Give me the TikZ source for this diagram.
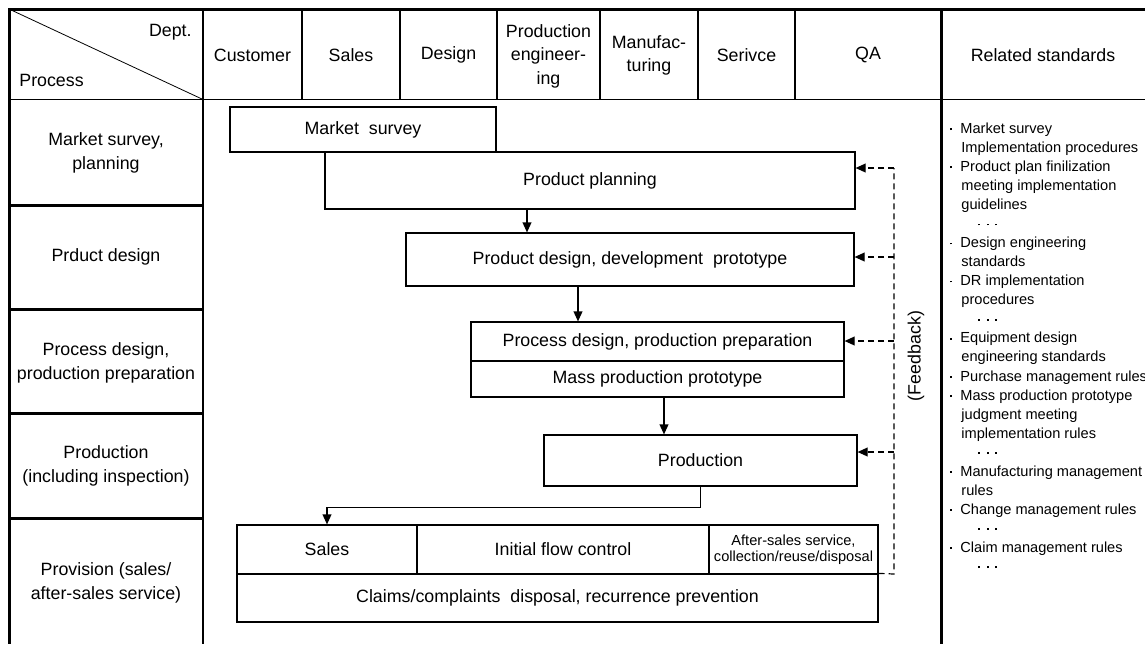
\documentclass[tikz,border=0pt]{standalone}
\usepackage{fontspec}
\setmainfont{Liberation Sans}
\usetikzlibrary{arrows.meta,positioning,calc}

\newcommand{\flowfont}{\fontsize{8.9pt}{11.75pt}\selectfont}
\newcommand{\smallflowfont}{\fontsize{7.3pt}{8pt}\selectfont}
\newcommand{\stddot}{\rule[1.7pt]{0.9pt}{0.9pt}}
\newcommand{\stdbul}{\makebox[6pt][l]{\hspace*{0.7pt}\stddot}}
\newcommand{\stdcont}{\hspace*{6.5pt}}
\newcommand{\stddots}{\hspace*{15pt}\stddot\hspace{3.3pt}\stddot\hspace{3.3pt}\stddot}

\tikzset{
  frame/.style={line width=1.5pt},
  rule/.style={line width=0.9pt},
  flowbox/.style={draw, line width=0.6pt, inner sep=0pt, align=center, font=\flowfont},
  headtext/.style={inner sep=0pt, align=center, font=\flowfont},
  stdtext/.style={inner sep=0pt, anchor=base west, font=\smallflowfont},
  flowarrow/.style={line width=0.6pt, -{Triangle[length=5pt, width=4.4pt]}},
  fbline/.style={line width=0.6pt, dash pattern=on 3pt off 2pt},
  fbarrow/.style={fbline, -{Triangle[length=5pt, width=4.4pt]}}
}

\begin{document}
\begin{tikzpicture}[x=0.5pt, y=-0.5pt]
  \useasboundingbox (0,0) rectangle (1145,644);
  % Table frame
  \draw[frame] (1145,9) -- (9,9) -- (9,644);
  \draw[rule] (9,99.5) -- (1145,99.5);
  \draw[rule] (203,9) -- (203,644);
  \draw[frame] (941,9) -- (941,644);
  \foreach \x in {302,400,497,600,698,795}
    \draw[rule] (\x,9) -- (\x,99.5);
  \foreach \y in {205,309,413,518}
    \draw[frame] (9,\y) -- (203,\y);
  \draw[line width=0.4pt] (9,9) -- (203,99.5);
  % Header
  \node[headtext, anchor=east] (hdept) at (192,32) {Dept.};
  \node[headtext, anchor=west] (hproc) at (19,80) {Process};
  \node[headtext] (hcust) at (252.5,55) {Customer};
  \node[headtext] (hsales) at (351,55) {Sales};
  \node[headtext] (hdesign) at (448.5,55) {Design};
  \node[headtext] (hprodeng) at (548.5,56) {Production\\engineer-\\ing};
  \node[headtext] (hmanuf) at (649,55.5) {Manufac-\\turing};
  \node[headtext] (hserv) at (746.5,55) {Serivce};
  \node[headtext] (hqa) at (868,55) {QA};
  \node[headtext] (hstd) at (1043,55) {Related standards};
  % Process column
  \node[headtext] (pmarket) at (106,153) {Market survey,\\planning};
  \node[headtext] (pdesign) at (106,257) {Prduct design};
  \node[headtext] (pprocess) at (106,363) {Process design,\\production preparation};
  \node[headtext] (pprod) at (106,466) {Production\\(including inspection)};
  \node[headtext] (pprov) at (106,583) {Provision (sales/\\after-sales service)};
  % Flow boxes
  \node[flowbox, minimum width=133pt, minimum height=22.5pt] (ms) at (363,129.5) {Market\ \ survey};
  \node[flowbox, minimum width=265pt, minimum height=28.5pt] (pp) at (590,180.5) {Product planning};
  \node[flowbox, minimum width=224pt, minimum height=26.5pt] (pd) at (630,259.5) {Product design, development\ \ prototype};
  \node[flowbox, minimum width=186.5pt, minimum height=19.5pt] (prc) at (657.5,341.5) {Process design, production preparation};
  \node[flowbox, minimum width=186.5pt, minimum height=18pt] (mpp) at (657.5,379) {Mass production prototype};
  \node[flowbox, minimum width=156.5pt, minimum height=25.5pt] (prod) at (700.5,460.5) {Production};
  \node[flowbox, minimum width=90pt, minimum height=24.5pt] (sal) at (327,549.5) {Sales};
  \node[flowbox, minimum width=146pt, minimum height=24.5pt] (ifc) at (563,549.5) {Initial flow control};
  \node[flowbox, minimum width=84.5pt, minimum height=24.5pt, font=\smallflowfont] (asv) at (793.5,549.5) {After-sales service,\\collection/reuse/disposal};
  \node[flowbox, minimum width=320.5pt, minimum height=24pt] (clm) at (557.5,598) {Claims/complaints\ \ disposal, recurrence prevention};
  % Arrows
  \draw[flowarrow] ([xshift=-31.5pt]pp.south) -- ([xshift=-31.5pt]pp.south |- pd.north);
  \draw[flowarrow] ([xshift=-26pt]pd.south) -- ([xshift=-26pt]pd.south |- prc.north);
  \draw[flowarrow] ([xshift=3.25pt]mpp.south) -- ([xshift=3.25pt]mpp.south |- prod.north);
  \draw[flowarrow] (prod.south) -- ++(0,21) -| (sal.north);
  % Feedback
  \coordinate (fb1) at (894,168);
  \coordinate (fb2) at (894,257);
  \coordinate (fb3) at (894,341);
  \coordinate (fb4) at (894,452);
  \coordinate (fbbot) at (894,574);
  \draw[fbline] (clm.north east) -- (fbbot) -- (fb1);
  \draw[fbarrow] (fb1) -- (fb1 -| pp.east);
  \draw[fbarrow] (fb2) -- (fb2 -| pd.east);
  \draw[fbarrow] (fb3) -- (fb3 -| prc.east);
  \draw[fbarrow] (fb4) -- (fb4 -| prod.east);
  \node[headtext, rotate=90] (fbtext) at (916,356) {(Feedback)};
  % Related standards
  \foreach \txt [count=\i from 0] in {
      {\stdbul Market survey},
      {\stdcont Implementation procedures},
      {\stdbul Product plan finilization},
      {\stdcont meeting implementation},
      {\stdcont guidelines},
      {\stddots},
      {\stdbul Design engineering},
      {\stdcont standards},
      {\stdbul DR implementation},
      {\stdcont procedures},
      {\stddots},
      {\stdbul Equipment design},
      {\stdcont engineering standards},
      {\stdbul Purchase management rules},
      {\stdbul Mass production prototype},
      {\stdcont judgment meeting},
      {\stdcont implementation rules},
      {\stddots},
      {\stdbul Manufacturing management},
      {\stdcont rules},
      {\stdbul Change management rules},
      {\stddots},
      {\stdbul Claim management rules},
      {\stddots}}
    \node[stdtext] (std\i) at (948,{133.5+19.04*\i}) {\txt};
\end{tikzpicture}
\end{document}
